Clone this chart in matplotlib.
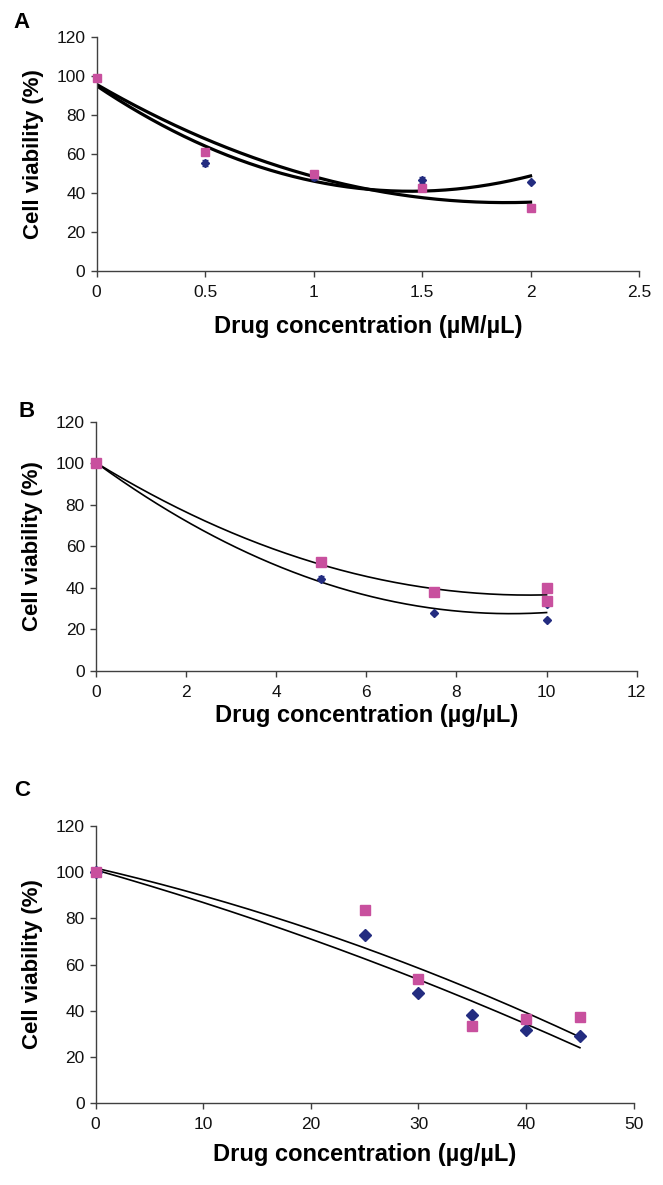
import matplotlib
matplotlib.use("Agg")
import matplotlib.pyplot as plt
import numpy as np

plt.rcParams["font.family"] = ["Liberation Sans", "DejaVu Sans"]

# ---------- data ----------
# Panel A (uM/uL)
a_x = [0, 0.5, 1, 1.5, 2]
a_blue = [99, 55.5, 48, 46.8, 45.4]
a_blue_err = [0, 1.5, 1.2, 1.5, 0.5]
a_pink = [99, 60.9, 49.7, 42.7, 32.4]

# Panel B (ug/uL), two replicates at 10
b_x = [0, 5, 7.5, 10, 10]
b_blue = [100, 44.3, 28, 24.7, 32.3]
b_blue_err = [0, 1.2, 0.5, 0.5, 0.5]
b_pink = [100, 52.5, 37.8, 40.0, 33.9]

# Panel C (ug/uL)
c_x = [0, 25, 30, 35, 40, 45]
c_blue = [100, 73, 47.5, 38.2, 31.5, 28.9]
c_pink = [100, 83.5, 53.9, 33.1, 36.5, 37.2]

BLUE = "#232C80"
PINK = "#C8509E"
AXIS = "#404040"

fig = plt.figure(figsize=(6.63, 11.85), dpi=100)


def setup(ax, xmax, xstep, xlabel, labelpad, xfmt):
    ax.set_xlim(0, xmax)
    ax.set_ylim(0, 120)
    ax.set_yticks(np.arange(0, 121, 20))
    ticks = np.arange(0, xmax + xstep / 2, xstep)
    ax.set_xticks(ticks)
    ax.set_xticklabels([xfmt(t) for t in ticks])
    for s in ["top", "right"]:
        ax.spines[s].set_visible(False)
    for s in ["left", "bottom"]:
        ax.spines[s].set_color(AXIS)
        ax.spines[s].set_linewidth(1.0)
    ax.tick_params(direction="out", length=4, width=1, color=AXIS,
                   labelsize=12.5, labelcolor="#111111")
    ax.tick_params(axis="x", pad=6)
    ax.tick_params(axis="y", pad=4)
    ax.set_xlabel(xlabel, fontsize=17, fontweight="bold", labelpad=labelpad)
    ax.set_ylabel("Cell viability (%)", fontsize=16, fontweight="bold", labelpad=9)
    ax.patch.set_alpha(0)


def trend(ax, x, y, lw, order=2):
    # Excel style polynomial trendline over the data range
    coef = np.polyfit(x, y, order)
    xs = np.linspace(min(x), max(x), 200)
    ax.plot(xs, np.polyval(coef, xs), color="black", lw=lw, zorder=2)


# ---- Panel A ----
axA = fig.add_axes([0.1456, 0.7716, 0.8183, 0.1970])
trend(axA, a_x, a_blue, 2.3)
trend(axA, a_x, a_pink, 2.3)
axA.errorbar(a_x, a_blue, yerr=a_blue_err, fmt="D", color=BLUE, ms=4,
             capsize=2, elinewidth=1, zorder=3, clip_on=False)
axA.plot(a_x, a_pink, "s", color=PINK, ms=5.5, zorder=4, clip_on=False)
setup(axA, 2.5, 0.5, "Drug concentration (\u00b5M/\u00b5L)", 11,
      lambda t: f"{t:g}")

# ---- Panel B ----
axB = fig.add_axes([0.1448, 0.4338, 0.8155, 0.2104])
trend(axB, b_x, b_blue, 1.2)
trend(axB, b_x, b_pink, 1.2)
axB.errorbar(b_x, b_blue, yerr=b_blue_err, fmt="D", color=BLUE, ms=4.5,
             capsize=2, elinewidth=1, zorder=3, clip_on=False)
axB.plot(b_x, b_pink, "s", color=PINK, ms=6.5, zorder=4, clip_on=False)
setup(axB, 12, 2, "Drug concentration (\u00b5g/\u00b5L)", 3,
      lambda t: f"{t:g}")

# ---- Panel C ----
axC = fig.add_axes([0.1443, 0.0695, 0.8115, 0.2331])
trend(axC, c_x, c_blue, 1.2)
trend(axC, c_x, c_pink, 1.2)
axC.plot(c_x, c_blue, "D", color=BLUE, ms=6.5, zorder=3, clip_on=False)
axC.plot(c_x, c_pink, "s", color=PINK, ms=7.5, zorder=4, clip_on=False)
setup(axC, 50, 10, "Drug concentration (\u00b5g/\u00b5L)", 8,
      lambda t: f"{t:g}")

# panel letters
for letter, (px, py) in {"A": (21, 23), "B": (27, 411), "C": (22, 790)}.items():
    fig.text(px / 663, 1 - py / 1185, letter, fontsize=16, fontweight="bold",
             ha="center", va="center")

fig.savefig("out.png", dpi=100)
